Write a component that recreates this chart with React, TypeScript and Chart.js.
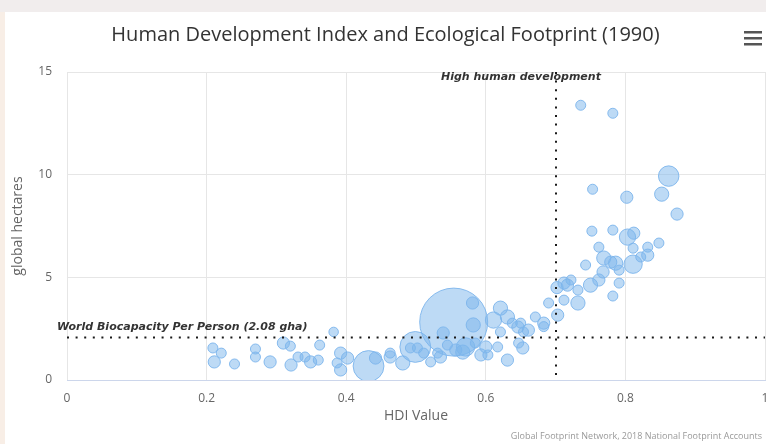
import React, { useEffect, useRef } from "react";
import { Chart, registerables } from "chart.js";

Chart.register(...registerables);

const chartTitle = "Human Development Index and Ecological Footprint (1990)";
const xAxisTitle = "HDI Value";
const yAxisTitle = "global hectares";
const creditText = "Global Footprint Network, 2018 National Footprint Accounts";
const biocapacityLabel = "World Biocapacity Per Person (2.08 gha)";
const highHdiLabel = "High human development";
const biocapacityValue = 2.08;
const highHdiValue = 0.7;

const xTicks = [0, 0.2, 0.4, 0.6, 0.8, 1];
const yTicks = [0, 5, 10, 15];

// HDI value of each country
const hdiValues = [
  0.209, 0.211, 0.221, 0.240, 0.270, 0.270, 0.291, 0.310, 0.320, 0.321,
  0.331, 0.341, 0.349, 0.362, 0.360, 0.382, 0.392, 0.402, 0.387, 0.392,
  0.432, 0.442, 0.463, 0.463, 0.481, 0.492, 0.502, 0.511, 0.521, 0.531,
  0.539, 0.499, 0.554, 0.535, 0.545, 0.557, 0.567, 0.571, 0.581, 0.582,
  0.585, 0.593, 0.603, 0.600, 0.611, 0.621, 0.631, 0.621, 0.617, 0.631,
  0.638, 0.650, 0.646, 0.654, 0.661, 0.647, 0.653, 0.671, 0.683, 0.690,
  0.703, 0.702, 0.712, 0.717, 0.722, 0.732, 0.732, 0.712, 0.743, 0.750,
  0.762, 0.768, 0.782, 0.791, 0.769, 0.779, 0.786, 0.791, 0.811, 0.822,
  0.762, 0.752, 0.782, 0.803, 0.812, 0.811, 0.832, 0.832, 0.848, 0.736,
  0.782, 0.862, 0.852, 0.802, 0.753, 0.874, 0.683,
];

// Ecological footprint per person (global hectares)
const footprintValues = [
  1.56, 0.88, 1.31, 0.78, 1.51, 1.12, 0.88, 1.80, 1.65, 0.73,
  1.12, 1.12, 0.88, 1.70, 0.97, 2.34, 1.31, 1.07, 0.83, 0.49,
  0.68, 1.07, 1.31, 1.12, 0.83, 1.56, 1.56, 1.31, 0.88, 1.31,
  2.29, 1.61, 2.82, 1.12, 1.70, 1.46, 1.36, 1.61, 3.75, 2.68,
  1.80, 1.22, 1.22, 1.61, 2.92, 3.50, 3.07, 2.34, 1.61, 0.97,
  2.77, 2.77, 2.58, 2.34, 2.43, 1.80, 1.56, 3.07, 2.77, 3.75,
  3.16, 4.50, 3.89, 4.62, 4.87, 3.75, 4.38, 4.72, 5.60, 4.62,
  4.87, 5.26, 4.09, 4.72, 5.94, 5.74, 5.69, 5.35, 5.64, 5.99,
  6.47, 7.25, 7.30, 6.96, 7.15, 6.42, 6.47, 6.08, 6.67, 13.38,
  12.99, 9.93, 9.05, 8.90, 9.29, 8.08, 2.60,
];

// Population (millions) - bubble size
const populationValues = [
  4, 14, 4, 4, 4, 4, 14, 14, 4, 14,
  4, 4, 14, 4, 4, 2, 14, 14, 4, 14,
  180, 14, 4, 14, 25, 4, 4, 4, 4, 4,
  14, 180, 940, 14, 4, 14, 25, 53, 14, 25,
  4, 14, 4, 14, 38, 25, 25, 4, 4, 14,
  4, 4, 14, 4, 14, 4, 14, 4, 14, 4,
  14, 14, 4, 14, 4, 25, 4, 14, 4, 25,
  14, 14, 4, 4, 25, 14, 25, 4, 53, 4,
  4, 4, 4, 38, 14, 4, 4, 14, 4, 4,
  4, 70, 25, 14, 4, 14, 4,
];

const MIN_R = 4.5;
const MAX_R = 34;
const FONT = "'Open Sans', 'Noto Sans', sans-serif";
const LABEL_FONT = "'DejaVu Sans', Verdana, sans-serif";

export default function App() {
  const canvasRef = useRef<HTMLCanvasElement | null>(null);

  useEffect(() => {
    const canvas = canvasRef.current;
    if (!canvas) return;
    const zMax = Math.max(...populationValues);
    const radiusFor = (z: number) =>
      Math.sqrt(MIN_R * MIN_R + ((MAX_R * MAX_R - MIN_R * MIN_R) * z) / zMax);

    const points = hdiValues.map((x, i) => ({
      x,
      y: footprintValues[i],
      z: populationValues[i],
    }));

    const overlay = {
      id: "overlay",
      afterDatasetsDraw(chart: any) {
        const { ctx, chartArea, scales } = chart;
        const x = scales.x;
        const y = scales.y;
        ctx.save();
        ctx.strokeStyle = "#1a1a1a";
        ctx.lineWidth = 2;
        ctx.setLineDash([2, 6.6]);
        const yb = Math.round(y.getPixelForValue(biocapacityValue)) + 0.5;
        ctx.beginPath();
        ctx.moveTo(chartArea.left, yb);
        ctx.lineTo(chartArea.right, yb);
        ctx.stroke();
        const xh = Math.round(x.getPixelForValue(highHdiValue));
        ctx.beginPath();
        ctx.moveTo(xh, chartArea.top);
        ctx.lineTo(xh, chartArea.bottom);
        ctx.stroke();
        ctx.setLineDash([]);

        ctx.fillStyle = "#333333";
        ctx.font = `italic bold 11px ${LABEL_FONT}`;
        ctx.textBaseline = "middle";
        ctx.textAlign = "left";
        ctx.fillText(biocapacityLabel, chartArea.left - 10, yb - 10);
        ctx.fillText(highHdiLabel, xh - 115, chartArea.top + 5);
        ctx.restore();
      },
      afterDraw(chart: any) {
        const { ctx, chartArea, width } = chart;
        ctx.save();
        // title
        ctx.fillStyle = "#333333";
        ctx.font = `20px ${FONT}`;
        ctx.textAlign = "center";
        ctx.textBaseline = "middle";
        ctx.fillText(chartTitle, width / 2, 23);
        // menu icon
        ctx.fillStyle = "#555555";
        for (let i = 0; i < 3; i++) {
          ctx.fillRect(739, 19 + i * 6, 18, 2.5);
        }
        // y axis title
        ctx.fillStyle = "#666666";
        ctx.font = `14px ${FONT}`;
        ctx.save();
        ctx.translate(13, (chartArea.top + chartArea.bottom) / 2);
        ctx.rotate(-Math.PI / 2);
        ctx.fillText(yAxisTitle, 0, 0);
        ctx.restore();
        // x axis title
        ctx.font = `14px ${FONT}`;
        ctx.fillText(xAxisTitle, (chartArea.left + chartArea.right) / 2, 404);
        // credits
        ctx.fillStyle = "#999999";
        ctx.font = `9px ${FONT}`;
        ctx.textAlign = "right";
        ctx.fillText(creditText, 757, 424);
        ctx.restore();
      },
    };

    const chart = new Chart(canvas, {
      type: "bubble",
      data: {
        datasets: [
          {
            data: points as any,
            backgroundColor: "rgba(124,181,236,0.5)",
            borderColor: "rgba(124,181,236,0.9)",
            borderWidth: 1,
            radius: (ctx: any) => radiusFor(ctx.raw ? ctx.raw.z : 1),
          } as any,
        ],
      },
      options: {
        responsive: false,
        animation: false,
        devicePixelRatio: 1,
        events: [],
        layout: { autoPadding: false, padding: { top: 60, left: 0, right: 1, bottom: 0 } },
        plugins: {
          legend: { display: false },
          title: { display: false },
          tooltip: { enabled: false },
        },
        scales: {
          x: {
            type: "linear",
            min: 0,
            max: 1,
            afterFit: (s: any) => {
              s.height = 64;
              s.paddingLeft = 0;
              s.paddingRight = 0;
            },
            afterBuildTicks: (s: any) => {
              s.ticks = xTicks.map((v) => ({ value: v }));
            },
            grid: { color: "#e6e6e6", drawTicks: false, lineWidth: 1 },
            border: { display: true, color: "#ccd6eb", width: 1 },
            ticks: {
              padding: 11,
              color: "#666666",
              font: { family: FONT, size: 12 },
              callback: (v: any) => String(Math.round(Number(v) * 10) / 10),
            },
          },
          y: {
            type: "linear",
            min: 0,
            max: 15,
            afterFit: (s: any) => {
              s.width = 62;
              s.paddingTop = 0;
              s.paddingBottom = 0;
            },
            afterBuildTicks: (s: any) => {
              s.ticks = yTicks.map((v) => ({ value: v }));
            },
            grid: { color: "#e6e6e6", drawTicks: false, lineWidth: 1 },
            border: { display: false },
            ticks: {
              padding: 15,
              color: "#666666",
              font: { family: FONT, size: 12 },
              callback: (v: any) => String(v),
            },
          },
        },
      } as any,
      plugins: [overlay],
    });
    return () => chart.destroy();
  }, []);

  return (
    <div
      style={{
        position: "fixed",
        left: 0,
        top: 0,
        width: 766,
        height: 444,
        background: "#ffffff",
        overflow: "hidden",
      }}
    >
      <div style={{ position: "absolute", left: 0, top: 0, width: 766, height: 12, background: "#f1eded" }} />
      <div style={{ position: "absolute", left: 0, top: 12, width: 5, height: 432, background: "#f8eee6" }} />
      <div style={{ position: "absolute", left: 5, top: 12, width: 761, height: 432 }}>
        <canvas ref={canvasRef} width={761} height={432} style={{ display: "block" }} />
      </div>
    </div>
  );
}
